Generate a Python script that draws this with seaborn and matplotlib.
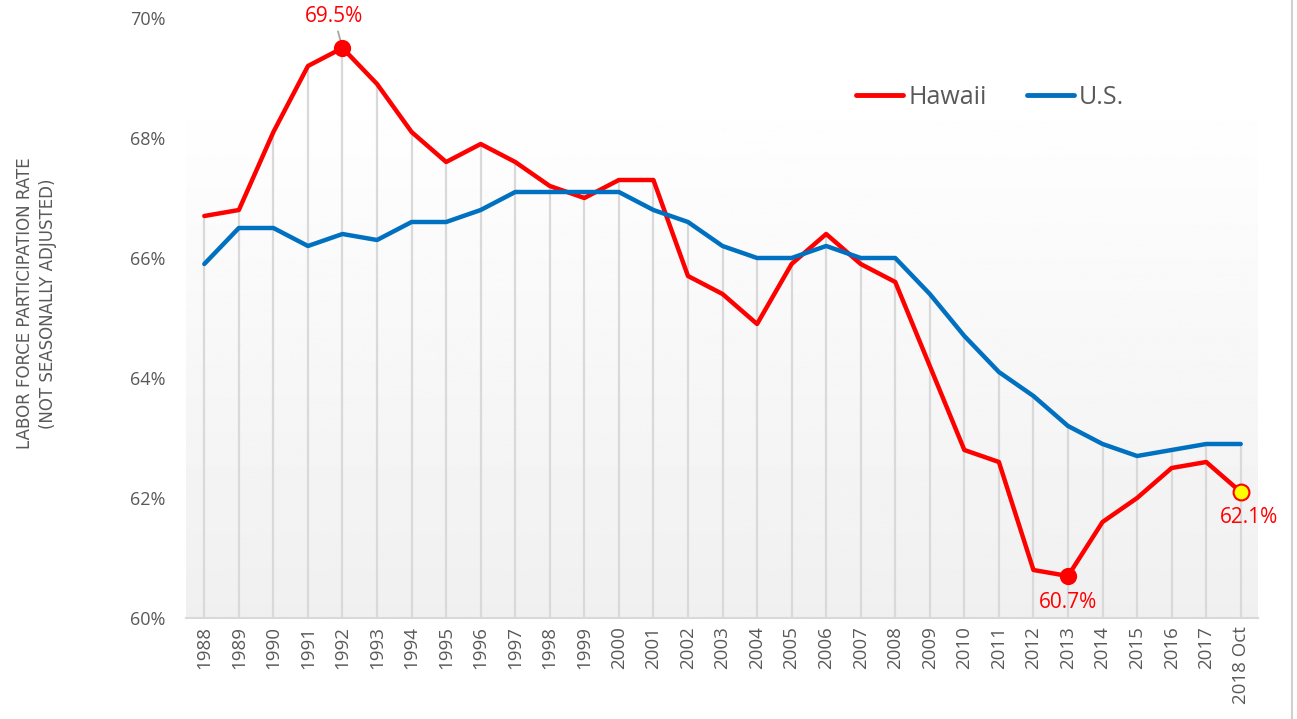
import numpy as np
import pandas as pd
import matplotlib.pyplot as plt
import seaborn as sns
from matplotlib.lines import Line2D

years = [str(y) for y in range(1988, 2018)] + ["2018 Oct"]
hawaii = [66.7, 66.8, 68.1, 69.2, 69.5, 68.9, 68.1, 67.6, 67.9, 67.6,
          67.2, 67.0, 67.3, 67.3, 65.7, 65.4, 64.9, 65.9, 66.4, 65.9,
          65.6, 64.2, 62.8, 62.6, 60.8, 60.7, 61.6, 62.0, 62.5, 62.6, 62.1]
us = [65.9, 66.5, 66.5, 66.2, 66.4, 66.3, 66.6, 66.6, 66.8, 67.1,
      67.1, 67.1, 67.1, 66.8, 66.6, 66.2, 66.0, 66.0, 66.2, 66.0,
      66.0, 65.4, 64.7, 64.1, 63.7, 63.2, 62.9, 62.7, 62.8, 62.9, 62.9]
series_names = ["Hawaii", "U.S."]
colors = ["#ff0000", "#0070c0"]

pos = np.arange(len(years))
df = pd.DataFrame({
    "x": np.concatenate([pos, pos]),
    "rate": hawaii + us,
    "series": [series_names[0]] * len(years) + [series_names[1]] * len(years),
})

sns.set_theme(style="white")
plt.rcParams["font.family"] = ["Open Sans", "DejaVu Sans"]
grey = "#595959"

fig = plt.figure(figsize=(12.97, 7.19), dpi=100)
ax = fig.add_axes([186 / 1297, 101 / 719, (1258 - 186) / 1297, 600 / 719])

xmin, xmax = -0.53, 30.5
ax.set_xlim(xmin, xmax)
ax.set_ylim(60, 70)

# gradient background of the plot area
grad = np.linspace(0.94, 1.0, 256).reshape(-1, 1)
ax.imshow(grad, extent=(xmin, xmax, 60, 68.88), origin="lower", cmap="gray",
          vmin=0, vmax=1, aspect="auto", zorder=0)

# drop lines up to the higher series
top = np.maximum(hawaii, us)
ax.vlines(pos, 60, top, color="#d9d9d9", lw=1.6, zorder=1)

sns.lineplot(data=df, x="x", y="rate", hue="series", palette=colors,
             linewidth=3.2, ax=ax, zorder=3, legend=False)

# highlighted points
i_max = int(np.argmax(hawaii))
i_min = int(np.argmin(hawaii))
i_last = len(years) - 1
ax.scatter([pos[i_max], pos[i_min]], [hawaii[i_max], hawaii[i_min]],
           s=130, color="#ff0000", zorder=4)
ax.scatter([pos[i_last]], [hawaii[i_last]], s=130, color="#ffff00",
           edgecolor="#ff0000", linewidth=1.5, zorder=4)

ax.annotate(f"{hawaii[i_max]:.1f}%", xy=(pos[i_max], hawaii[i_max]),
            xytext=(pos[i_max] - 0.25, 70.03), ha="center", va="center",
            color="#ff0000", fontsize=15,
            arrowprops=dict(arrowstyle="-", color="#a6a6a6", lw=1.3,
                            shrinkA=1, shrinkB=0))
ax.text(pos[i_min], hawaii[i_min] - 0.45, f"{hawaii[i_min]:.1f}%",
        ha="center", va="center", color="#ff0000", fontsize=15)
ax.text(pos[i_last] + 0.25, hawaii[i_last] - 0.43, f"{hawaii[i_last]:.1f}%",
        ha="center", va="center", color="#ff0000", fontsize=15)

ax.set_xticks(pos)
ax.set_xticklabels(years, rotation=90, fontsize=13.5, color=grey)
ax.set_yticks(np.arange(60, 71, 2))
ax.set_yticklabels([f"{v}%" for v in range(60, 71, 2)], fontsize=13, color=grey)
ax.tick_params(axis="y", pad=15, length=0)
ax.tick_params(axis="x", pad=6, length=0)
ax.set_xlabel("")
ax.set_ylabel("")
for s in ["top", "right", "left"]:
    ax.spines[s].set_visible(False)
ax.spines["bottom"].set_color("#d9d9d9")
ax.spines["bottom"].set_linewidth(1.5)

fig.text(0.028, 0.578,
         "LABOR FORCE PARTICIPATION RATE\n(NOT SEASONALLY ADJUSTED)",
         rotation=90, ha="center", va="center", fontsize=12, color=grey,
         family=["Liberation Sans Narrow", "DejaVu Sans"], linespacing=1.35)

handles = [Line2D([0], [0], color=c, lw=3.5) for c in colors]
fig.legend(handles, series_names, loc="center", ncol=2, frameon=False,
           bbox_to_anchor=(990 / 1297, 1 - 97 / 719), fontsize=18,
           labelcolor=grey, handlelength=1.9, handletextpad=0.2,
           columnspacing=1.6)

fig.add_artist(Line2D([1292 / 1297, 1292 / 1297], [0, 1], color="#d0d0d0",
                      lw=1.5, transform=fig.transFigure))

fig.savefig("out.png", dpi=100, facecolor="white")
